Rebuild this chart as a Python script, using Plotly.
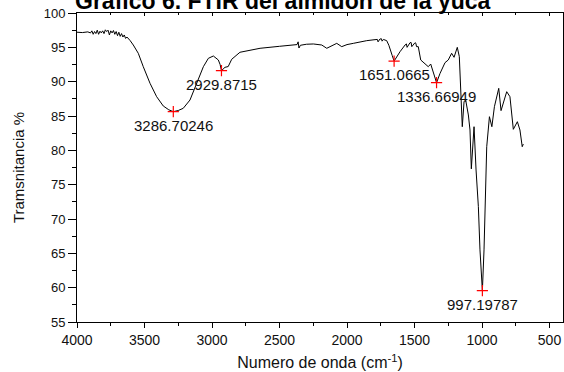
import plotly.graph_objects as go

# Spectrum (wavenumber cm-1, transmittance %)
wavenumber = [4000, 3960, 3920, 3900, 3890, 3880, 3870, 3860, 3850, 3840, 3830, 3820,
              3810, 3800, 3790, 3780, 3770, 3760, 3750, 3740, 3730, 3720, 3710, 3700,
              3690, 3680, 3670, 3660, 3650, 3640, 3630, 3620, 3607,
              3583, 3546, 3509, 3459, 3410, 3361, 3320, 3286.70, 3250, 3213, 3163, 3114,
              3064, 3027, 2990, 2953, 2940, 2929.87, 2904, 2880, 2854, 2793, 2700, 2644,
              2500, 2398, 2370, 2362, 2356, 2345, 2300, 2249, 2187, 2150, 2110, 2076,
              2039, 2000, 1953, 1900, 1854, 1800, 1775, 1770, 1756, 1745, 1740, 1730,
              1706, 1690, 1681, 1665, 1651.07, 1630, 1607, 1570, 1560, 1555, 1533, 1525,
              1520, 1496, 1490, 1485, 1472, 1454, 1422, 1398, 1380, 1360, 1336.67, 1311,
              1274, 1250, 1225, 1207, 1183, 1168, 1158, 1146, 1133, 1121, 1101, 1089,
              1079, 1073, 1059, 1044, 1027, 1015, 997.20, 985, 978, 965, 945, 927, 908,
              876, 859, 817, 793, 768, 738, 719, 702, 694]
transmittance = [97.2, 97.15, 97.25, 97.1, 97.4, 96.9, 97.3, 97.0, 97.5, 96.9, 97.35, 97.1,
                 97.4, 97.0, 97.55, 97.3, 97.5, 96.8, 97.4, 97.1, 97.45, 96.9, 97.3, 96.7,
                 97.2, 96.6, 97.0, 96.5, 96.8, 96.3, 96.5, 96.2, 96.0,
                 95.34, 94.13, 92.18, 89.76, 87.81, 86.46, 85.9, 85.63, 85.8, 86.12, 87.33, 89.76,
                 92.18, 93.4, 93.74, 93.16, 92.5, 91.6, 92.09, 92.2, 93.26, 94.28, 94.7, 94.86,
                 95.15, 95.34, 95.4, 95.8, 94.9, 95.3, 95.45, 95.49, 95.34, 94.86, 95.3, 95.58,
                 95.1, 95.4, 95.58, 95.8, 95.97, 96.1, 96.15, 95.8, 96.21, 96.25, 95.9, 96.15,
                 95.97, 95.3, 94.6, 93.8, 93.0, 93.7, 94.37, 95.34, 95.5, 95.0, 95.68, 95.7,
                 95.1, 95.68, 95.6, 95.1, 95.1, 93.16, 92.67, 92.18, 92.57, 91.2, 89.85, 91.2,
                 92.77, 93.16, 94.13, 93.55, 95.0, 93.64, 89.27, 83.44, 87.08, 87.33, 85.15, 82.96,
                 77.3, 79.6, 83.44, 77.14, 71.8, 65.5, 59.56, 65.5, 71.8, 80.53, 84.9, 83.44, 86.36,
                 89.03, 85.78, 88.54, 87.81, 83.06, 84.17, 82.96, 80.53, 80.92]

# Labelled peaks
peak_wn = [3286.70246, 2929.8715, 1651.0665, 1336.66949, 997.19787]
peak_t = [85.63, 91.6, 93.0, 89.85, 59.56]
peak_labels = ["3286.70246", "2929.8715", "1651.0665", "1336.66949", "997.19787"]

title_text = "Grafico 6. FTIR del almidon de la yuca"
x_title = "Numero de onda (cm<sup>-1</sup>)"
y_title = "Tramsnitancia %"

fig = go.Figure()
fig.add_trace(go.Scatter(x=wavenumber, y=transmittance, mode="lines",
                         line=dict(color="black", width=1), hoverinfo="skip",
                         showlegend=False))
fig.add_trace(go.Scatter(x=peak_wn, y=peak_t, mode="markers",
                         marker=dict(symbol="cross-thin", size=8,
                                     line=dict(color="red", width=1.2)),
                         showlegend=False))
# invisible trace to activate the top axis (inner ticks on the top frame)
fig.add_trace(go.Scatter(x=[wavenumber[0]], y=[transmittance[0]], xaxis="x2",
                         mode="markers", marker=dict(opacity=0), showlegend=False,
                         hoverinfo="skip"))

for w, t, lab in zip(peak_wn, peak_t, peak_labels):
    fig.add_annotation(x=w, y=t, text=lab, showarrow=False, yanchor="top", yshift=-3,
                       font=dict(family="Arial, Liberation Sans", size=15, color="#111"))

fig.add_annotation(xref="paper", yref="paper", x=0.424, y=1.0, yanchor="bottom",
                   text="<b>" + title_text + "</b>", showarrow=False, yshift=-3,
                   font=dict(family="Arial, Liberation Sans", size=23, color="black"))

font = dict(family="Arial, Liberation Sans", size=13, color="#111")
fig.update_layout(
    width=564, height=372,
    margin=dict(l=77, r=1, t=13, b=50),
    plot_bgcolor="white", paper_bgcolor="white",
    font=font,
    xaxis=dict(range=[4000, 400], tick0=0, dtick=500, ticks="outside", ticklen=5,
               tickcolor="black", showline=True, linecolor="black", linewidth=1,
               mirror=True, showgrid=False, zeroline=False,
               minor=dict(dtick=250, ticks="outside", ticklen=3, tickcolor="black"),
               title=dict(text=x_title, font=dict(size=16), standoff=10),
               tickfont=dict(size=14)),
    xaxis2=dict(range=[4000, 400], overlaying="x", side="top", anchor="y",
                tick0=0, dtick=500, ticks="inside", ticklen=3, tickcolor="black",
                showticklabels=False, showgrid=False, zeroline=False, showline=False,
                minor=dict(dtick=250, ticks="inside", ticklen=2, tickcolor="black")),
    yaxis=dict(range=[55, 100], dtick=5, ticks="outside", ticklen=8, tickcolor="black",
               showline=True, linecolor="black", linewidth=1, mirror=True,
               showgrid=False, zeroline=False,
               minor=dict(dtick=2.5, ticks="outside", ticklen=4, tickcolor="black"),
               title=dict(text=y_title, font=dict(size=15), standoff=15),
               tickfont=dict(size=13)),
)

fig.write_html("out.html")
